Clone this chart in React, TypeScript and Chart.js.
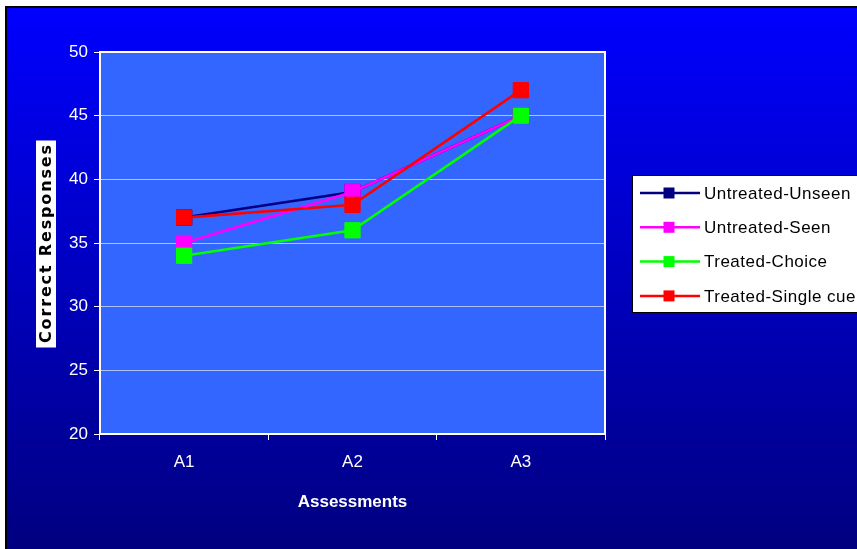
import { useEffect, useRef } from 'react';
import { Chart, registerables } from 'chart.js';

Chart.register(...registerables);

// Assessment points on the x axis
const assessments = ['A1', 'A2', 'A3'];

// Mean correct responses per group
const seriesNames = ['Untreated-Unseen', 'Untreated-Seen', 'Treated-Choice', 'Treated-Single cue'];
const untreatedUnseen = [37, 39, 45];
const untreatedSeen = [35, 39, 45];
const treatedChoice = [34, 36, 45];
const treatedSingleCue = [37, 38, 47];
const seriesColors = ['#000080', '#FF00FF', '#00FF00', '#FF0000'];

// Value axis
const yMin = 20;
const yMax = 50;
const yStep = 5;

const yTitle = 'Correct Responses';
const xTitle = 'Assessments';

const FONT = '"Liberation Sans", Arial, sans-serif';

// Page backdrop, plot fill and the white frame round the plot
const backdrop = {
  id: 'backdrop',
  beforeDraw(chart: any) {
    const { ctx, width, height, chartArea: a } = chart;
    ctx.save();
    ctx.fillStyle = '#FFFFFF';
    ctx.fillRect(0, 0, width, height);
    ctx.fillStyle = '#000000';
    ctx.fillRect(5, 6, width - 5, height - 6);
    const g = ctx.createLinearGradient(0, 8, 0, height);
    g.addColorStop(0, '#0000FF');
    g.addColorStop(1, '#000080');
    ctx.fillStyle = g;
    ctx.fillRect(7, 8, width - 7, height - 8);
    ctx.fillStyle = '#3366FF';
    ctx.fillRect(a.left, a.top, a.right - a.left, a.bottom - a.top);
    ctx.restore();
  },
  beforeDatasetsDraw(chart: any) {
    const { ctx, chartArea: a } = chart;
    ctx.save();
    ctx.strokeStyle = '#FFFFFF';
    ctx.lineWidth = 2;
    ctx.strokeRect(a.left, a.top, a.right - a.left, a.bottom - a.top);
    ctx.restore();
  },
};

// Rotated y-axis caption on a white label
const yCaption = {
  id: 'yCaption',
  afterDraw(chart: any) {
    const { ctx, chartArea: a } = chart;
    const cx = 46;
    const cy = (a.top + a.bottom) / 2 + 1;
    const boxW = 20;
    const boxH = 207;
    ctx.save();
    ctx.fillStyle = '#FFFFFF';
    ctx.fillRect(cx - boxW / 2, cy - boxH / 2, boxW, boxH);
    ctx.translate(cx, cy);
    ctx.rotate(-Math.PI / 2);
    ctx.font = 'bold 16px "DejaVu Sans", sans-serif';
    ctx.fillStyle = '#000000';
    ctx.textBaseline = 'middle';
    ctx.textAlign = 'left';
    const c: any = ctx;
    if ('letterSpacing' in c) c.letterSpacing = '0px';
    const w0 = ctx.measureText(yTitle).width;
    const n = yTitle.length;
    let spacing = 0;
    if ('letterSpacing' in c) {
      spacing = Math.max(0, (198 - w0) / (n - 1));
      c.letterSpacing = spacing + 'px';
    }
    const total = w0 + spacing * (n - 1);
    ctx.fillText(yTitle, -total / 2, 1);
    ctx.restore();
  },
};

// Boxed legend to the right of the plot
const boxedLegend = {
  id: 'boxedLegend',
  afterDraw(chart: any) {
    const { ctx, width } = chart;
    const left = 632;
    const top = 175;
    const bottom = 312;
    ctx.save();
    ctx.fillStyle = '#FFFFFF';
    ctx.fillRect(left, top, width - left + 2, bottom - top);
    ctx.strokeStyle = '#000000';
    ctx.lineWidth = 1;
    ctx.strokeRect(left + 0.5, top + 0.5, width - left + 4, bottom - top);
    ctx.font = '17px ' + FONT;
    ctx.textBaseline = 'middle';
    ctx.textAlign = 'left';
    const c: any = ctx;
    if ('letterSpacing' in c) c.letterSpacing = '0.5px';
    chart.data.datasets.forEach((ds: any, i: number) => {
      const y = 193 + i * 34.3;
      ctx.strokeStyle = ds.borderColor;
      ctx.lineWidth = 2.5;
      ctx.beginPath();
      ctx.moveTo(640, y);
      ctx.lineTo(700, y);
      ctx.stroke();
      ctx.fillStyle = ds.borderColor;
      ctx.fillRect(663.5, y - 5.5, 11, 11);
      ctx.fillStyle = '#000000';
      ctx.fillText(ds.label, 704, y + 1);
    });
    ctx.restore();
  },
};

export default function App() {
  const canvasRef = useRef<HTMLCanvasElement | null>(null);

  useEffect(() => {
    const canvas = canvasRef.current;
    if (!canvas) return;
    const values = [untreatedUnseen, untreatedSeen, treatedChoice, treatedSingleCue];
    const chart = new Chart(canvas, {
      type: 'line',
      data: {
        labels: assessments,
        datasets: values.map((v, i) => ({
          label: seriesNames[i],
          data: v,
          borderColor: seriesColors[i],
          backgroundColor: seriesColors[i],
          borderWidth: 2.7,
          pointStyle: 'rect',
          pointRadius: 10.8,
          pointHoverRadius: 10.8,
          pointBorderWidth: 1,
          pointBorderColor: seriesColors[i],
          pointBackgroundColor: seriesColors[i],
          tension: 0,
          fill: false,
          // later groups are drawn over earlier ones
          order: values.length - 1 - i,
        })),
      },
      options: {
        responsive: false,
        animation: false,
        events: [],
        layout: { padding: { left: 0, top: 52, right: 252, bottom: 0 } },
        plugins: {
          legend: { display: false },
          tooltip: { enabled: false },
        },
        scales: {
          x: {
            type: 'category',
            offset: true,
            afterFit: (s: any) => {
              s.height = 115;
            },
            grid: {
              display: true,
              offset: true,
              drawOnChartArea: false,
              drawTicks: true,
              tickLength: 6,
              color: '#FFFFFF',
              tickColor: '#FFFFFF',
            },
            border: { display: true, color: '#FFFFFF', width: 2 },
            ticks: {
              color: '#FFFFFF',
              padding: 12,
              font: { family: FONT, size: 17 },
            },
            title: {
              display: true,
              text: xTitle,
              color: '#FFFFFF',
              font: { family: FONT, size: 17, weight: 'bold' },
              padding: { top: 0, bottom: 36 },
            },
          },
          y: {
            min: yMin,
            max: yMax,
            afterFit: (s: any) => {
              s.width = 100;
            },
            grid: {
              color: 'rgba(255,255,255,0.6)',
              lineWidth: 1,
              drawTicks: true,
              tickLength: 6,
              tickColor: '#FFFFFF',
            },
            border: { display: true, color: '#FFFFFF', width: 2 },
            ticks: {
              stepSize: yStep,
              color: '#FFFFFF',
              padding: 6,
              font: { family: FONT, size: 17 },
            },
          },
        },
      },
      plugins: [backdrop, yCaption, boxedLegend],
    });
    return () => chart.destroy();
  }, []);

  return (
    <div style={{ position: 'absolute', left: 0, top: 0, width: 857, height: 549 }}>
      <canvas ref={canvasRef} width={857} height={549} style={{ display: 'block' }} />
    </div>
  );
}
